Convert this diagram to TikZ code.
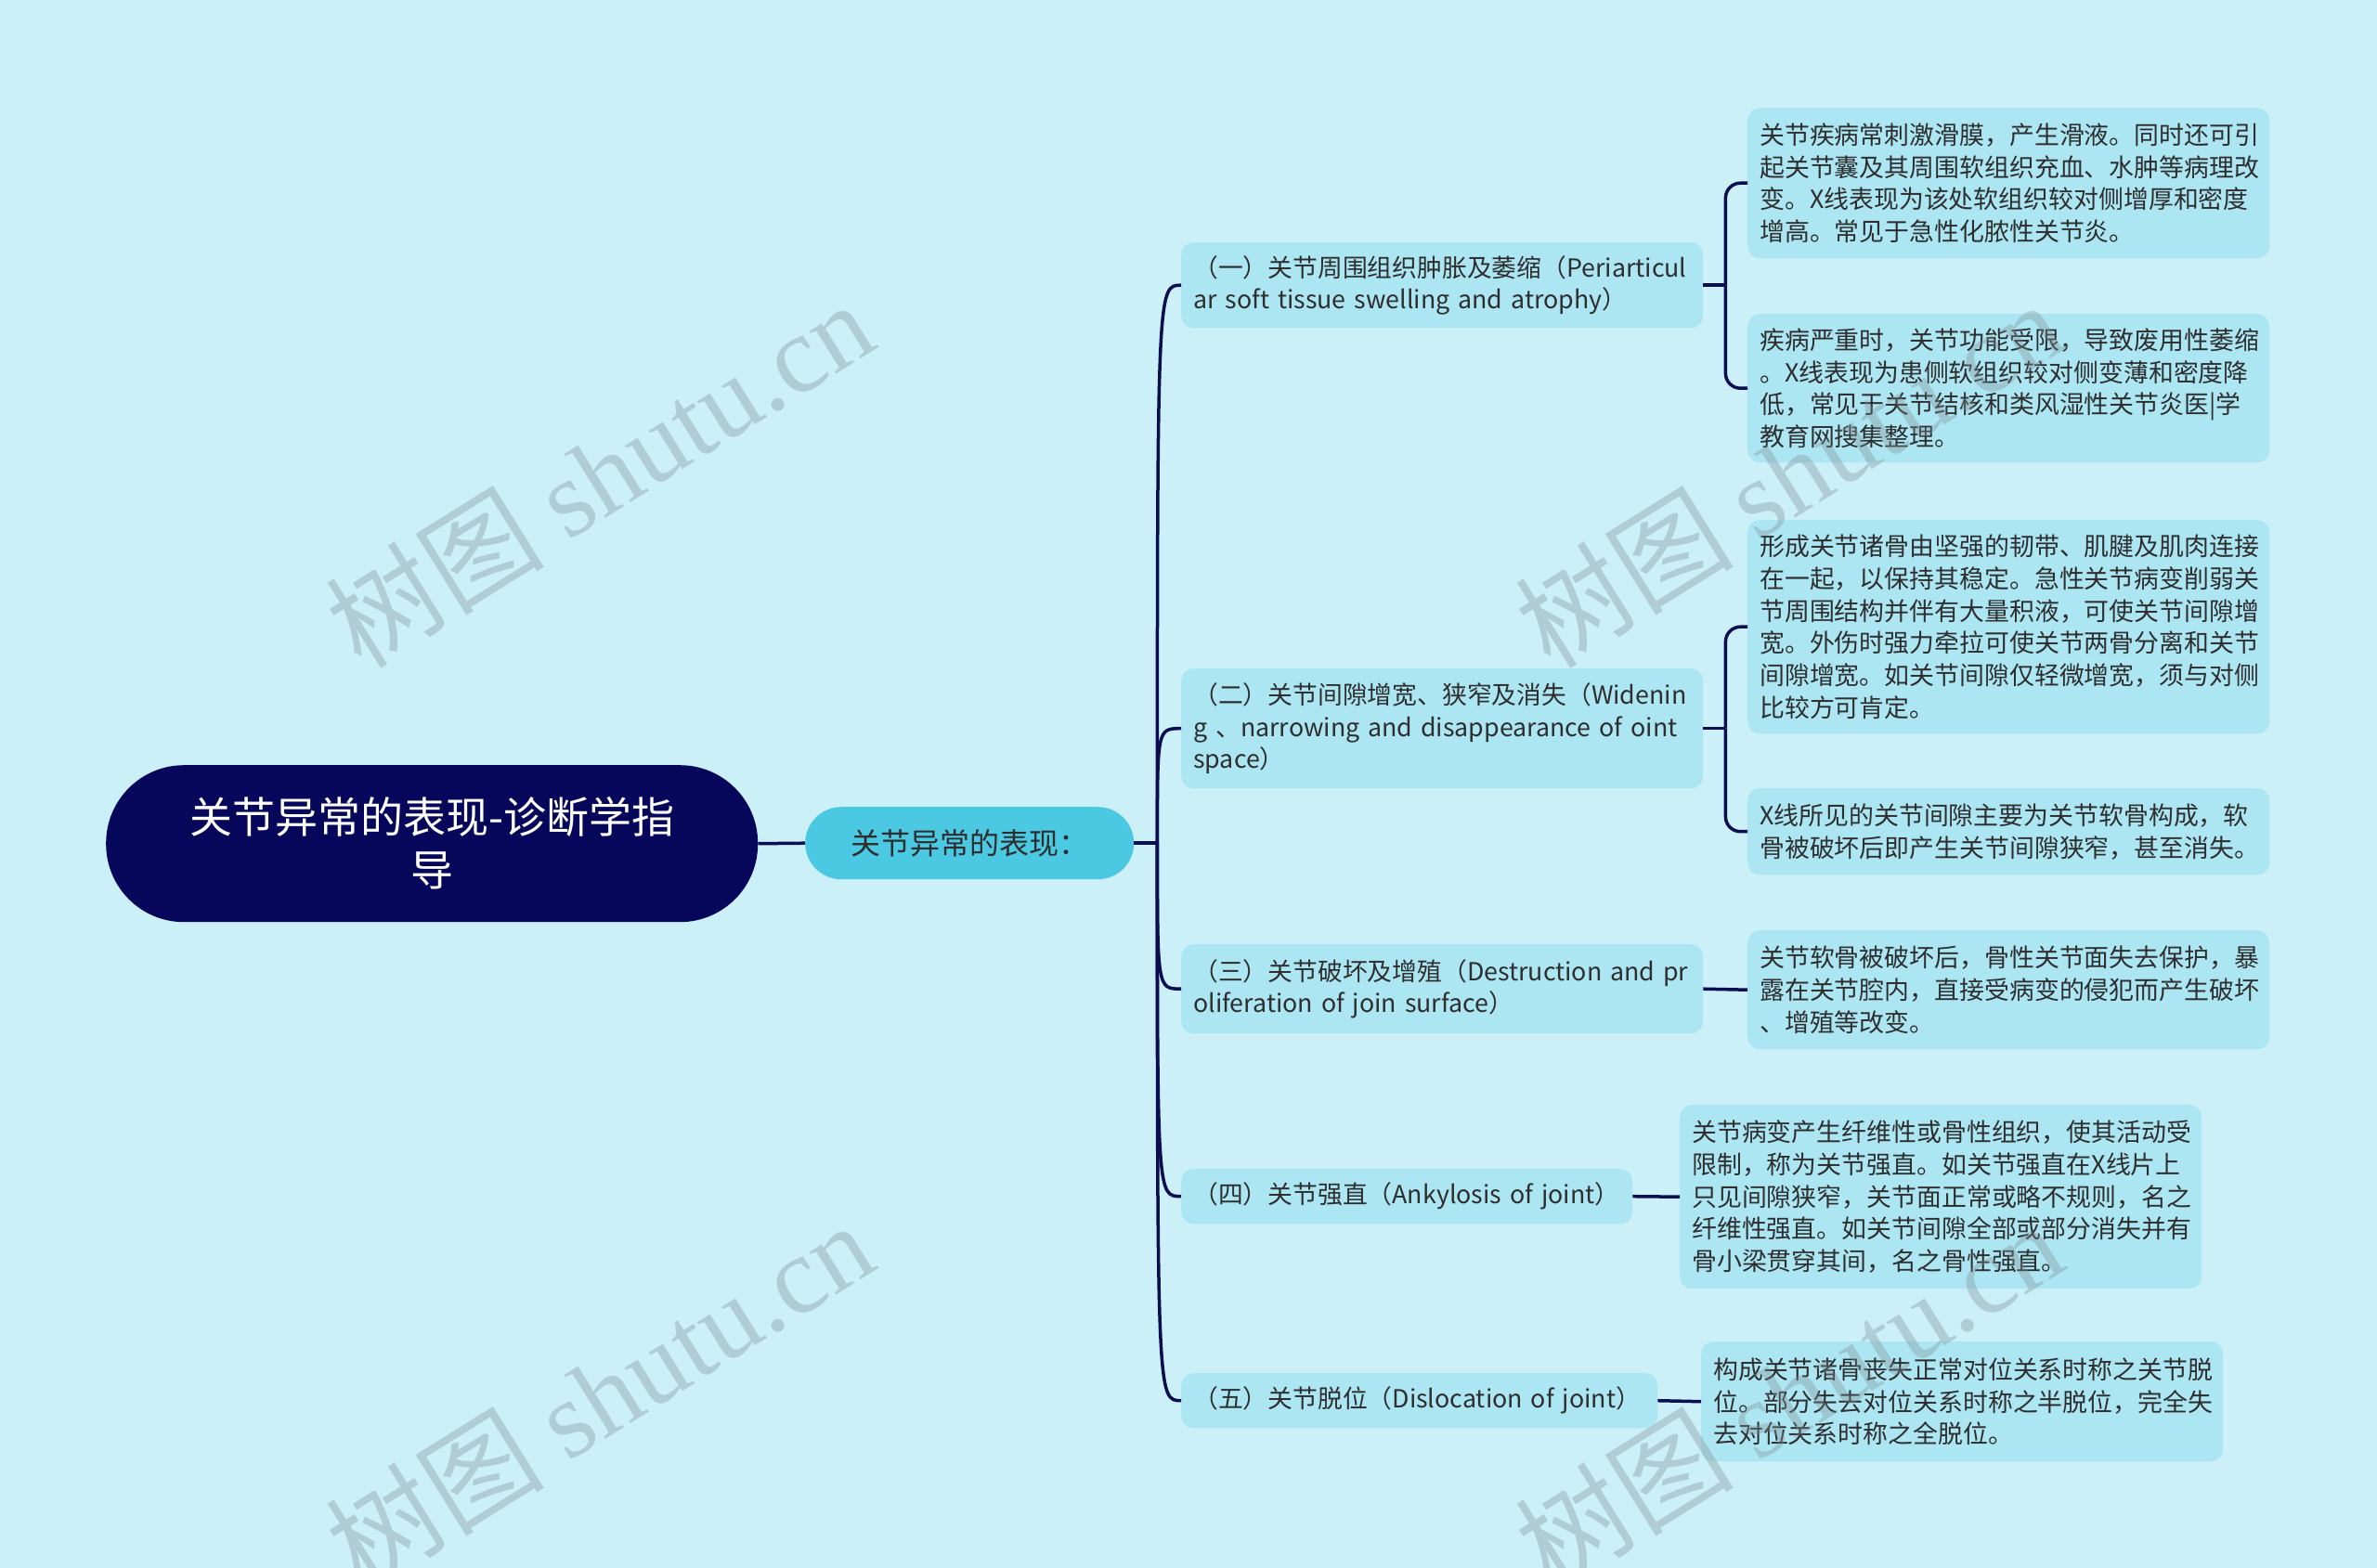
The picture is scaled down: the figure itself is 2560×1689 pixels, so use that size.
\documentclass[tikz,border=0pt]{standalone}
\usepackage{fontspec}
\newfontfamily\cjk{Noto Sans CJK SC}
\newfontfamily\wmlat{Liberation Serif}
\usetikzlibrary{calc}
\definecolor{bg}{HTML}{CBF0F8}
\definecolor{boxc}{HTML}{ADE6F3}
\definecolor{lone}{HTML}{4BC8E2}
\definecolor{rootc}{HTML}{06065A}
\definecolor{linec}{HTML}{0D0D52}
\definecolor{txt}{HTML}{2E2E2E}
\definecolor{wmc}{HTML}{7E8E94}
\tikzset{
  rootbox/.style={fill=rootc, rounded corners=84pt, text=white, font=\cjk\fontsize{46}{57}\selectfont,
    align=center, anchor=north west, inner sep=0pt, text width=640pt},
  lonebox/.style={fill=lone, rounded corners=39pt, text=txt, font=\cjk\fontsize{32}{40}\selectfont,
    align=center, anchor=north west, inner sep=0pt},
  ltwo/.style={fill=boxc, rounded corners=13pt, text=txt, font=\cjk\fontsize{26.8}{34.5}\selectfont,
    align=left, anchor=north west, inner xsep=13pt, inner ysep=0pt},
  detail/.style={fill=boxc, rounded corners=13pt, text=txt, font=\cjk\fontsize{26.9}{34.8}\selectfont,
    align=left, anchor=north west, inner xsep=13pt, inner ysep=0pt, text width=536pt, minimum width=562pt},
  conn/.style={draw=linec, line width=3.5pt},
  brack/.style={draw=linec, line width=3.5pt, rounded corners=16pt},
  wm/.style={text=wmc, opacity=0.35, font=\fontsize{118}{130}\selectfont, inner sep=0pt}
}
\begin{document}
\begin{tikzpicture}[x=1pt,y=-1pt]
\fill[bg] (0,0) rectangle (2560,1689);
\useasboundingbox (0,0) rectangle (2560,1689);

% root and level one
\node[rootbox, minimum width=702pt, minimum height=169pt] (root) at (114,824) {关节异常的表现-诊断学指\\导};
\node[lonebox, minimum width=354pt, minimum height=78pt] (l1) at (867,869) {关节异常的表现：};

% level two
\node[ltwo, text width=536pt, minimum width=562pt, minimum height=92pt] (n1) at (1272,261)
  {（一）关节周围组织肿胀及萎缩（Periarticul\\ar soft tissue swelling and atrophy）};
\node[ltwo, text width=536pt, minimum width=562pt, minimum height=129pt] (n2) at (1272,720)
  {（二）关节间隙增宽、狭窄及消失（Widenin\\g 、narrowing and disappearance of oint\\space）};
\node[ltwo, text width=536pt, minimum width=562pt, minimum height=96pt] (n3) at (1272,1017)
  {（三）关节破坏及增殖（Destruction and pr\\oliferation of join surface）};
\node[ltwo, text width=460pt, minimum width=486pt, minimum height=59pt] (n4) at (1272,1259)
  {（四）关节强直（Ankylosis of joint）};
\node[ltwo, text width=487pt, minimum width=513pt, minimum height=59pt] (n5) at (1272,1479)
  {（五）关节脱位（Dislocation of joint）};

% details
\node[detail, minimum height=162pt] (d1a) at (1882,116)
  {关节疾病常刺激滑膜，产生滑液。同时还可引\\起关节囊及其周围软组织充血、水肿等病理改\\变。X线表现为该处软组织较对侧增厚和密度\\增高。常见于急性化脓性关节炎。};
\node[detail, minimum height=160pt] (d1b) at (1882,338)
  {疾病严重时，关节功能受限，导致废用性萎缩\\。X线表现为患侧软组织较对侧变薄和密度降\\低，常见于关节结核和类风湿性关节炎医|学\\教育网搜集整理。};
\node[detail, minimum height=230pt] (d2a) at (1882,560)
  {形成关节诸骨由坚强的韧带、肌腱及肌肉连接\\在一起，以保持其稳定。急性关节病变削弱关\\节周围结构并伴有大量积液，可使关节间隙增\\宽。外伤时强力牵拉可使关节两骨分离和关节\\间隙增宽。如关节间隙仅轻微增宽，须与对侧\\比较方可肯定。};
\node[detail, minimum height=93pt] (d2b) at (1882,849)
  {X线所见的关节间隙主要为关节软骨构成，软\\骨被破坏后即产生关节间隙狭窄，甚至消失。};
\node[detail, minimum height=128pt] (d3) at (1882,1002)
  {关节软骨被破坏后，骨性关节面失去保护，暴\\露在关节腔内，直接受病变的侵犯而产生破坏\\、增殖等改变。};
\node[detail, minimum height=198pt] (d4) at (1809,1190)
  {关节病变产生纤维性或骨性组织，使其活动受\\限制，称为关节强直。如关节强直在X线片上\\只见间隙狭窄，关节面正常或略不规则，名之\\纤维性强直。如关节间隙全部或部分消失并有\\骨小梁贯穿其间，名之骨性强直。};
\node[detail, minimum height=129pt] (d5) at (1832,1445)
  {构成关节诸骨丧失正常对位关系时称之关节脱\\位。部分失去对位关系时称之半脱位，完全失\\去对位关系时称之全脱位。};

% connectors
\draw[conn] (root.east) -- (l1.west);
\coordinate (hub) at ($(l1.east)+(25,0)$);
\draw[conn] (l1.east) -- (hub);
\foreach \c in {n1,n2,n3,n4,n5}{
  \draw[conn] (hub) .. controls (hub |- \c.west) .. (\c.west);
}
\coordinate (j1) at ($(n1.east)+(24,0)$);
\draw[conn] (n1.east) -- (j1);
\draw[brack] (j1) |- (d1a.west);
\draw[brack] (j1) |- (d1b.west);
\coordinate (j2) at ($(n2.east)+(24,0)$);
\draw[conn] (n2.east) -- (j2);
\draw[brack] (j2) |- (d2a.west);
\draw[brack] (j2) |- (d2b.west);
\draw[conn] (n3.east) -- (d3.west);
\draw[conn] (n4.east) -- (d4.west);
\draw[conn] (n5.east) -- (d5.west);

% watermarks
\node[wm, rotate=32] (w1) at (645,510) {\cjk 树图 \wmlat shutu.cn};
\node[wm, rotate=32] (w2) at (1926,510) {\cjk 树图 \wmlat shutu.cn};
\node[wm, rotate=32] (w3) at (645,1502) {\cjk 树图 \wmlat shutu.cn};
\node[wm, rotate=32] (w4) at (1926,1502) {\cjk 树图 \wmlat shutu.cn};
\end{tikzpicture}
\end{document}
